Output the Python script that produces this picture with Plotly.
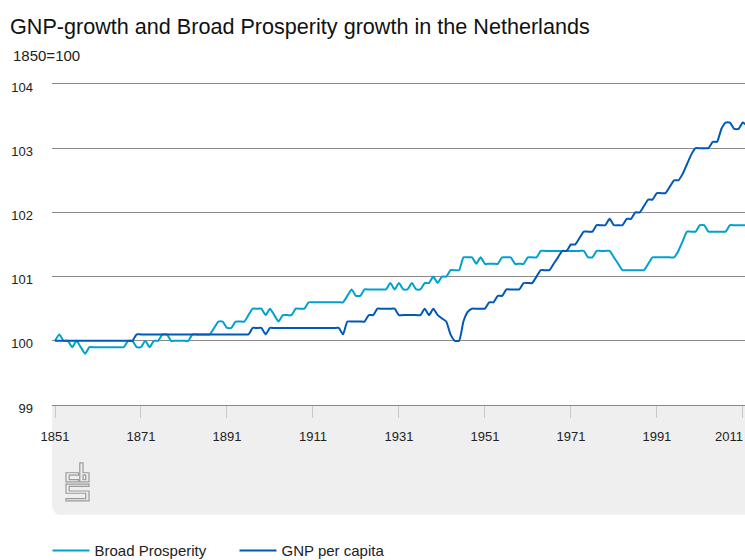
import plotly.graph_objects as go

years = list(range(1851, 2013))

broad_prosperity = [
    100.0, 100.1, 100.0, 100.0, 99.9, 100.0, 99.9, 99.8, 99.9, 99.9,      # 1851-1860
    99.9, 99.9, 99.9, 99.9, 99.9, 99.9, 99.9, 100.0, 100.0, 99.9,         # 1861-1870
    99.9, 100.0, 99.9, 100.0, 100.0, 100.1, 100.1, 100.0, 100.0, 100.0,   # 1871-1880
    100.0, 100.0, 100.1, 100.1, 100.1, 100.1, 100.1, 100.2, 100.3, 100.3, # 1881-1890
    100.2, 100.2, 100.3, 100.3, 100.3, 100.4, 100.5, 100.5, 100.5, 100.4, # 1891-1900
    100.5, 100.4, 100.3, 100.4, 100.4, 100.4, 100.5, 100.5, 100.5, 100.6, # 1901-1910
    100.6, 100.6, 100.6, 100.6, 100.6, 100.6, 100.6, 100.6, 100.7, 100.8, # 1911-1920
    100.7, 100.7, 100.8, 100.8, 100.8, 100.8, 100.8, 100.8, 100.9, 100.8, # 1921-1930
    100.9, 100.8, 100.8, 100.9, 100.8, 100.8, 100.9, 100.9, 101.0, 100.9, # 1931-1940
    101.0, 101.0, 101.1, 101.1, 101.1, 101.3, 101.3, 101.3, 101.2, 101.3, # 1941-1950
    101.2, 101.2, 101.2, 101.2, 101.3, 101.3, 101.3, 101.2, 101.2, 101.2, # 1951-1960
    101.3, 101.3, 101.3, 101.4, 101.4, 101.4, 101.4, 101.4, 101.4, 101.4, # 1961-1970
    101.4, 101.4, 101.4, 101.4, 101.3, 101.3, 101.4, 101.4, 101.4, 101.4, # 1971-1980
    101.3, 101.2, 101.1, 101.1, 101.1, 101.1, 101.1, 101.1, 101.2, 101.3, # 1981-1990
    101.3, 101.3, 101.3, 101.3, 101.3, 101.4, 101.55, 101.7, 101.7, 101.7, # 1991-2000
    101.8, 101.8, 101.7, 101.7, 101.7, 101.7, 101.7, 101.8, 101.8, 101.8, # 2001-2010
    101.8, 101.8,                                                          # 2011-2012
]

gnp_per_capita = [
    100.0, 100.0, 100.0, 100.0, 100.0, 100.0, 100.0, 100.0, 100.0, 100.0, # 1851-1860
    100.0, 100.0, 100.0, 100.0, 100.0, 100.0, 100.0, 100.0, 100.0, 100.1, # 1861-1870
    100.1, 100.1, 100.1, 100.1, 100.1, 100.1, 100.1, 100.1, 100.1, 100.1, # 1871-1880
    100.1, 100.1, 100.1, 100.1, 100.1, 100.1, 100.1, 100.1, 100.1, 100.1, # 1881-1890
    100.1, 100.1, 100.1, 100.1, 100.1, 100.1, 100.2, 100.2, 100.2, 100.1, # 1891-1900
    100.2, 100.2, 100.2, 100.2, 100.2, 100.2, 100.2, 100.2, 100.2, 100.2, # 1901-1910
    100.2, 100.2, 100.2, 100.2, 100.2, 100.2, 100.2, 100.1, 100.3, 100.3, # 1911-1920
    100.3, 100.3, 100.3, 100.4, 100.4, 100.5, 100.5, 100.5, 100.5, 100.5, # 1921-1930
    100.4, 100.4, 100.4, 100.4, 100.4, 100.4, 100.5, 100.4, 100.5, 100.4, # 1931-1940
    100.35, 100.3, 100.1, 100.0, 100.0, 100.3, 100.45, 100.5, 100.5, 100.5, # 1941-1950
    100.5, 100.6, 100.6, 100.7, 100.7, 100.8, 100.8, 100.8, 100.8, 100.9, # 1951-1960
    100.9, 100.9, 101.0, 101.1, 101.1, 101.1, 101.2, 101.3, 101.4, 101.4, # 1961-1970
    101.5, 101.5, 101.6, 101.7, 101.7, 101.7, 101.8, 101.8, 101.8, 101.9, # 1971-1980
    101.8, 101.8, 101.8, 101.9, 101.9, 102.0, 102.0, 102.1, 102.2, 102.2, # 1981-1990
    102.3, 102.3, 102.3, 102.4, 102.5, 102.5, 102.6, 102.75, 102.9, 103.0, # 1991-2000
    103.0, 103.0, 103.0, 103.1, 103.1, 103.3, 103.4, 103.4, 103.3, 103.3, # 2001-2010
    103.4, 103.35,                                                         # 2011-2012
]

series_names = ["Broad Prosperity", "GNP per capita"]
series_colors = ["#00A1CD", "#0058B8"]
y_ticks = [99, 100, 101, 102, 103, 104]
x_ticks = list(range(1851, 2012, 20))
# the last label sits flush with the page edge (as in the reference), so it is
# written as a right-anchored label at its tick instead of a centred one
x_ticktext = [str(v) for v in x_ticks[:-1]] + [""]
last_tick = x_ticks[-1]

W, H = 745, 560
ML, MR, MT, MB = 52, 0, 83.5, 155
PW, PH = W - ML - MR, H - MT - MB


def px(x):
    return (x - ML) / PW


def py(y):
    return (H - MB - y) / PH


fig = go.Figure()
for name, vals, col in zip(series_names, [broad_prosperity, gnp_per_capita], series_colors):
    fig.add_trace(go.Scatter(
        x=years, y=vals, name=name, mode="lines",
        line=dict(color=col, width=2, shape="spline", smoothing=0.5),
        hoverinfo="skip",
    ))

shapes = []
# grey band under the axis with rounded bottom-left corner
r = 10
x0, x1, y0, y1 = 52, 760, 405, 515
band = (f"M {px(x0)} {py(y0)} L {px(x1)} {py(y0)} L {px(x1)} {py(y1)} "
        f"L {px(x0 + r)} {py(y1)} Q {px(x0)} {py(y1)} {px(x0)} {py(y1 - r)} Z")
shapes.append(dict(type="path", path=band, xref="paper", yref="paper",
                   fillcolor="#efefef", line=dict(width=0), layer="below"))

# cbs logo (outline), drawn in a box in pixel space
LX0, LX1, LY0, LY1 = 66, 89, 463, 501


def poly(pts):
    mapped = [(LX0 + u * (LX1 - LX0), LY0 + v * (LY1 - LY0)) for u, v in pts]
    s = "M " + " L ".join(f"{px(a)} {py(b)}" for a, b in mapped) + " Z"
    return dict(type="path", path=s, xref="paper", yref="paper",
                line=dict(color="#9a9a9a", width=1.2), fillcolor="rgba(0,0,0,0)")


shapes.append(poly([(0.55, 0.26), (0, 0.26), (0, 0.5), (0.55, 0.5), (0.55, 0.44),
                    (0.14, 0.44), (0.14, 0.32), (0.55, 0.32)]))
shapes.append(poly([(0.6, 0), (0.74, 0), (0.74, 0.26), (1, 0.26), (1, 0.5), (0.6, 0.5)]))
shapes.append(poly([(0.74, 0.32), (0.86, 0.32), (0.86, 0.44), (0.74, 0.44)]))
shapes.append(poly([(1, 0.56), (0, 0.56), (0, 0.8), (0.86, 0.8), (0.86, 0.94), (0, 0.94),
                    (0, 1), (1, 1), (1, 0.74), (0.14, 0.74), (0.14, 0.62), (1, 0.62)]))

fig.update_layout(
    width=W, height=H,
    margin=dict(l=ML, r=MR, t=MT, b=MB, pad=0, autoexpand=False),
    paper_bgcolor="white", plot_bgcolor="white",
    font=dict(family="Liberation Sans, Arial, sans-serif", size=13, color="#222"),
    title=dict(text="GNP-growth and Broad Prosperity growth in the Netherlands",
               x=10 / W, xref="container", xanchor="left",
               y=1 - 26 / H, yref="container", yanchor="middle",
               pad=dict(l=0, t=0, b=0, r=0),
               font=dict(size=21.6, color="#111")),
    shapes=shapes,
    annotations=[
        dict(text="1850=100", x=px(11), y=py(55), xref="paper", yref="paper",
             xanchor="left", yanchor="middle", showarrow=False,
             font=dict(size=15, color="#222")),
        dict(text=str(last_tick), x=last_tick, y=py(437), xref="x", yref="paper",
             xanchor="right", yanchor="middle", xshift=1, showarrow=False,
             borderpad=0, font=dict(size=13, color="#222")),
    ],
    showlegend=True,
    legend=dict(orientation="h", x=px(47.5), y=py(551), xanchor="left", yanchor="middle",
                font=dict(size=15, color="#222"), entrywidth=135, entrywidthmode="pixels",
                itemwidth=37,
                bgcolor="rgba(0,0,0,0)", itemclick=False, itemdoubleclick=False),
    xaxis=dict(range=[1850.3, 2011.5], tickmode="array", tickvals=x_ticks,
               ticktext=x_ticktext,
               ticks="outside", ticklen=12, tickcolor="#c8c8c8", tickwidth=1,
               showgrid=False, zeroline=False,
               showline=True, mirror=True, linecolor="#8a8a8a", linewidth=1,
               ticklabelstandoff=7, ticklabeloverflow="allow",
               tickfont=dict(size=13, color="#222"),
               fixedrange=True),
    yaxis=dict(range=[99, 104], tickmode="array", tickvals=y_ticks,
               showgrid=True, gridcolor="#8a8a8a", gridwidth=1,
               zeroline=False, showline=False, ticks="",
               ticklabelstandoff=18, ticklabelshift=3,
               tickfont=dict(size=13, color="#222"),
               fixedrange=True),
)

fig.write_html("out.html")
